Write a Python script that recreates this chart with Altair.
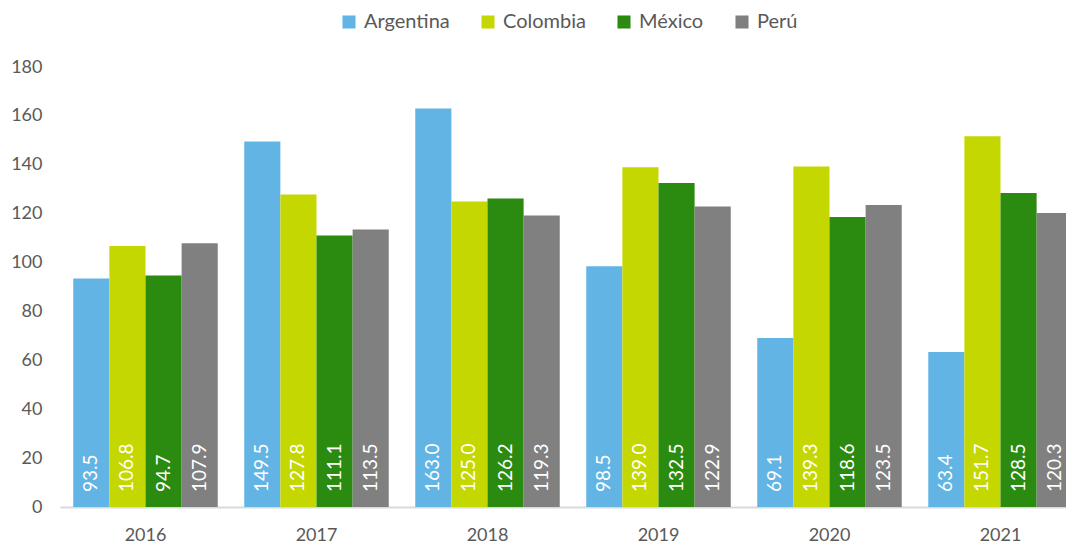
import altair as alt
import pandas as pd

years = ["2016", "2017", "2018", "2019", "2020", "2021"]
countries = ["Argentina", "Colombia", "México", "Perú"]
argentina = [93.5, 149.5, 163.0, 98.5, 69.1, 63.4]
colombia = [106.8, 127.8, 125.0, 139.0, 139.3, 151.7]
mexico = [94.7, 111.1, 126.2, 132.5, 118.6, 128.5]
peru = [107.9, 113.5, 119.3, 122.9, 123.5, 120.3]
colors = ["#62B4E4", "#C5D700", "#2B8A10", "#808080"]

series = {"Argentina": argentina, "Colombia": colombia, "México": mexico, "Perú": peru}
rows = []
for c in countries:
    for y, v in zip(years, series[c]):
        rows.append({"year": y, "country": c, "value": v})
df = pd.DataFrame(rows)

FONT = "Lato"
W, H = 1006, 440

x = alt.X("year:N", sort=years, title=None,
          scale=alt.Scale(range=[0, 1026], paddingInner=0.155, paddingOuter=0.0775),
          axis=alt.Axis(labelAngle=0, ticks=False, labelPadding=19, domainColor="#D9D9D9",
                        domainWidth=2, labelFontSize=18, labelColor="#595959", labelFont=FONT))
xo = alt.XOffset("country:N", sort=countries, scale=alt.Scale(paddingInner=0, paddingOuter=0))

base = alt.Chart(df)

bars = base.mark_bar(clip=True).encode(
    x=x,
    xOffset=xo,
    y=alt.Y("value:Q", title=None,
            scale=alt.Scale(domain=[0, 180], nice=False),
            axis=alt.Axis(values=list(range(0, 181, 20)), ticks=False, domain=False, grid=False,
                          labelPadding=18, labelFontSize=18, labelColor="#595959", labelFont=FONT)),
    color=alt.Color("country:N", sort=countries,
                    scale=alt.Scale(domain=countries, range=colors),
                    legend=alt.Legend(title=None, orient="none", direction="horizontal",
                                      legendX=279, legendY=-55, symbolType="square",
                                      symbolSize=170, symbolStrokeWidth=0, labelFontSize=20,
                                      labelFont=FONT, labelColor="#595959", columnPadding=28,
                                      labelOffset=5)),
)

labels = base.mark_text(angle=270, align="left", baseline="middle", color="white",
                        fontSize=19, font=FONT).encode(
    x=x,
    xOffset=xo,
    y=alt.value(425),
    text=alt.Text("value:Q", format=".1f"),
)

chart = (bars + labels).properties(
    width=W, height=H,
    autosize=alt.AutoSizeParams(type="none"),
    padding={"left": 52, "top": 59, "right": 0, "bottom": 37},
).configure_view(stroke=None).configure_axis(grid=False)

chart.save("out.html", embed_options={"renderer": "svg", "actions": False})
